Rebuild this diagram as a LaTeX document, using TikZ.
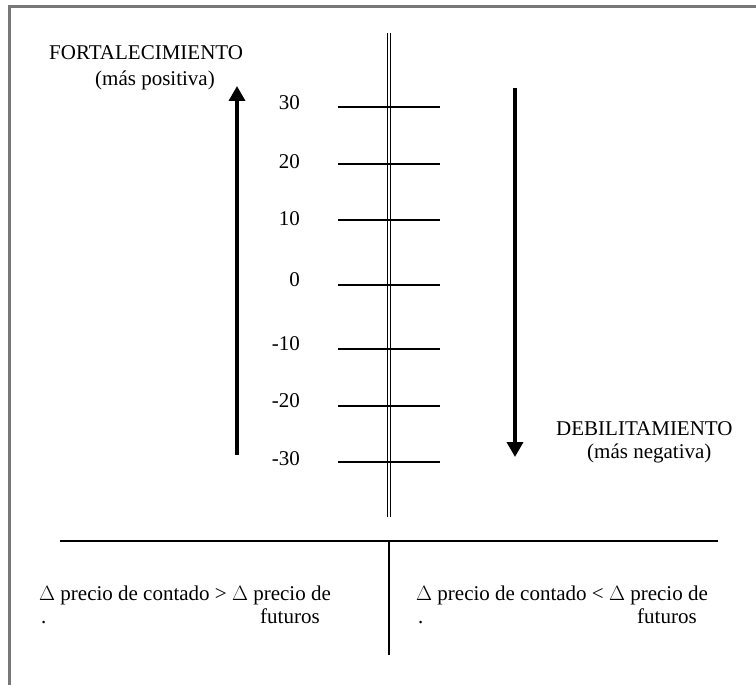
\documentclass[tikz,border=0pt]{standalone}
\usepackage{fontspec}
\setmainfont{Liberation Serif}
\usetikzlibrary{arrows.meta}
\definecolor{framegray}{RGB}{120,120,120}
\newcommand{\dlt}{\ensuremath{\Delta}}
\begin{document}
\begin{tikzpicture}[x=1pt,y=-1pt,
  lbl/.style={inner sep=0pt,font=\fontsize{21}{25}\selectfont},
  tick/.style={line width=2pt},
  bigarrow/.style={line width=3.5pt,-{Triangle[width=16pt,length=15pt]}},
  divider/.style={line width=2pt}]
\useasboundingbox (0,0) rectangle (756,685);
% frame
\draw[framegray,line width=3pt] (9.5,685) -- (9.5,6.5) -- (756,6.5);
% axis (double line)
\coordinate (axtop) at (389,33);
\coordinate (axbot) at (389,517);
\draw[line width=1.2pt,double,double distance=1.8pt] (axtop) -- (axbot);
% ticks and labels
\foreach \v/\y/\b in {30/107/110,20/164/168,10/220/225,0/285/286,-10/349/350,-20/406/407,-30/462/465}{
  \draw[tick] (338,\y) -- (440,\y);
  \node[lbl,anchor=base east] (n\v) at (300,\b) {\v};
}
% arrows
\coordinate (upS) at (237,455);
\coordinate (upE) at (237,86);
\draw[bigarrow] (upS) -- (upE);
\coordinate (dnS) at (515,88);
\coordinate (dnE) at (515,457);
\draw[bigarrow] (dnS) -- (dnE);
% titles
\node[lbl,anchor=base west] (fort) at (49,60) {FORTALECIMIENTO};
\node[lbl,anchor=base west] (fortsub) at (95,85) {(más positiva)};
\node[lbl,anchor=base west] (deb) at (556,435) {DEBILITAMIENTO};
\node[lbl,anchor=base west] (debsub) at (587,458) {(más negativa)};
% bottom dividers
\coordinate (hL) at (60,541);
\coordinate (hR) at (718,541);
\coordinate (vT) at (389,541);
\coordinate (vB) at (389,655);
\draw[divider] (hL) -- (hR);
\draw[divider] (vT) -- (vB);
% bottom texts
\node[lbl,anchor=base west] (lt1) at (39,600) {\dlt{} precio de contado > \dlt{} precio de};
\node[lbl,anchor=base west] (ldot) at (41,623) {.};
\node[lbl,anchor=base west] (lt2) at (260,623) {futuros};
\node[lbl,anchor=base west] (rt1) at (416,600) {\dlt{} precio de contado < \dlt{} precio de};
\node[lbl,anchor=base west] (rdot) at (418,623) {.};
\node[lbl,anchor=base west] (rt2) at (637,623) {futuros};
\end{tikzpicture}
\end{document}
